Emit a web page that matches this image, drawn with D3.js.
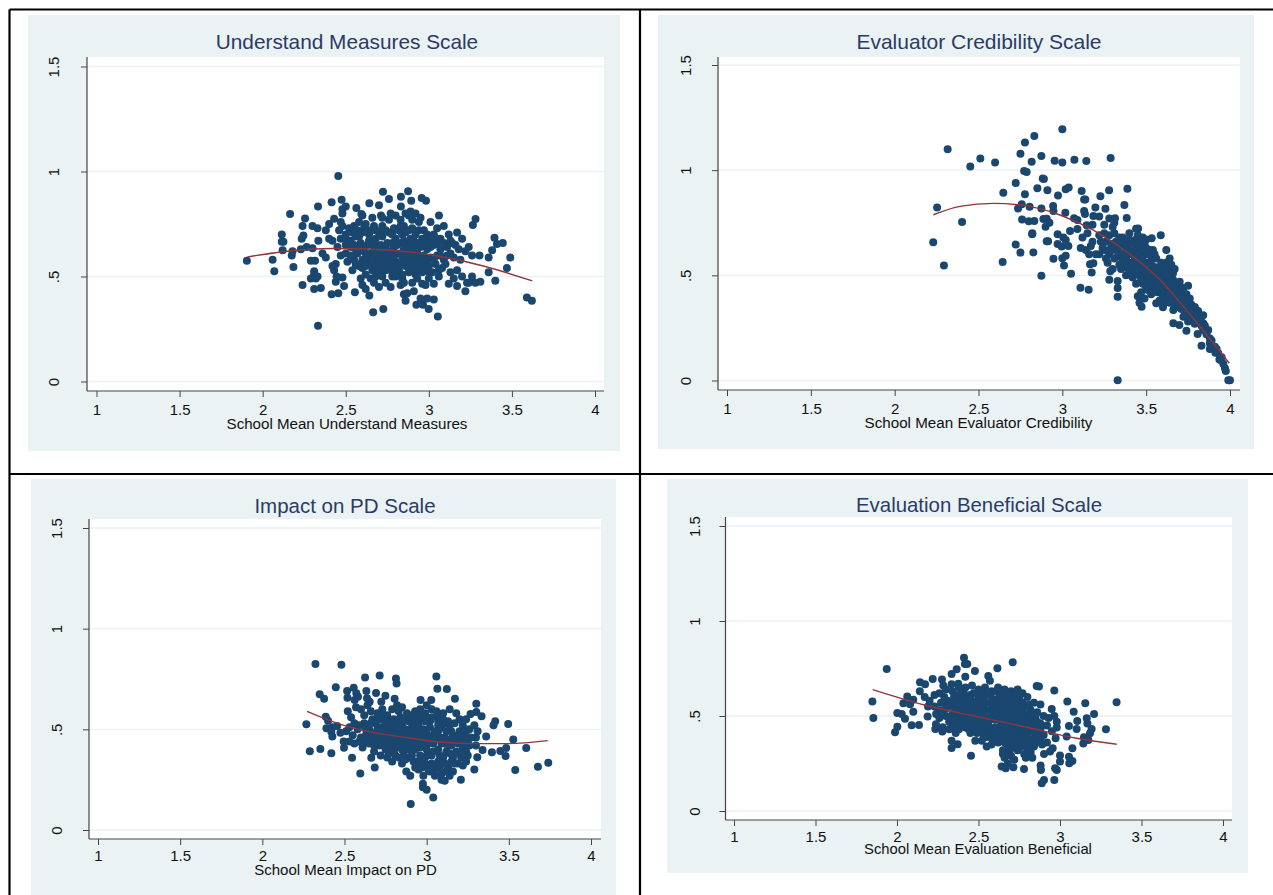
<!DOCTYPE html>
<html><head><meta charset="utf-8">
<script src="https://cdn.jsdelivr.net/npm/d3@7/dist/d3.min.js"></script>
<style>html,body{margin:0;padding:0;background:#fff}svg{display:block}text{font-family:"Liberation Sans",Arial,sans-serif}</style>
</head><body><div id="chart"></div>
<script>
const xTickValues=[1,1.5,2,2.5,3,3.5,4];
const yTickValues=[0,.5,1,1.5];
const tickLabel=v=>v===.5?".5":String(v);

const understandPoints=[[2.455,.979],[2.724,.903],[2.875,.906],[2.832,.88],[2.76,.869],[2.957,.874],[2.983,.861],[2.894,.861],[2.475,.866],[2.415,.853],[2.642,.849],[2.7,.839],[2.333,.833],[2.832,.833],[2.5,.833],[2.48,.82],[2.564,.826],[2.165,.798],[2.255,.776],[2.594,.798],[2.712,.791],[3.061,.791],[3.281,.774],[3.265,.745],
[2.333,.266],[2.665,.33],[2.726,.345],[3.054,.31],[2.925,.365],[2.999,.345],[2.965,.365],[3.03,.39],[2.99,.395],[2.95,.395],[2.86,.385],[2.87,.42],[2.91,.43],[2.85,.415],[2.642,.41],[2.555,.425],[2.455,.42],[2.415,.415],[2.31,.44],[2.35,.445],[2.24,.46],[2.49,.455],[2.6,.46],[2.7,.45],[2.77,.45],[2.83,.46],[2.96,.465],[3.03,.465],[3.12,.465],[3.17,.455],[3.22,.43],[3.23,.47],[3.28,.47],[3.31,.475],[3.4,.48],[3.36,.52],[3.47,.54],[3.59,.4],[3.62,.385],[3.49,.59],[3.36,.59],[3.305,.6],[3.381,.625],[3.41,.655],[3.445,.66],[3.395,.685],[1.905,.575],[2.06,.58],[2.07,.525],[2.185,.545],[2.175,.6],[2.12,.625],[2.115,.665],[2.125,.665],[2.115,.7],[2.235,.68],[2.245,.695],[2.24,.74],[2.18,.62],[2.23,.63],[2.265,.64],[2.3,.635],[2.29,.575],[2.315,.575],[2.31,.525],[2.33,.5],[2.29,.49],[2.32,.49],[2.31,.51],[2.38,.59],[2.36,.61],[2.42,.55],[2.43,.53],[2.44,.56],[2.445,.5],[2.44,.475],[2.48,.495],[2.54,.53],[2.3,.74],[2.33,.73],[2.335,.67],[2.38,.72],[2.4,.75],[2.43,.775],[2.47,.76],[2.48,.8],[2.46,.72],[2.4,.68],[2.42,.67],[2.45,.64],[2.5,.65],[2.5,.61],[2.51,.57],[2.55,.58],[2.58,.55],[2.6,.54],
[2.52,.73],[2.55,.74],[2.58,.76],[2.62,.75],[2.66,.78],[2.68,.72],[2.72,.74],[2.76,.77],[2.8,.79],[2.83,.77],[2.86,.8],[2.89,.81],[2.92,.8],[2.9,.77],[2.85,.74],[2.79,.73],[2.94,.76],[2.97,.72],[3.01,.76],[3.05,.73],[3.09,.74],[3.13,.67],[3.17,.71],[3.2,.68],[3.24,.64],[3.26,.6],[3.22,.62],[3.18,.63],[3.14,.66],[3.11,.64],[3.07,.68],[3.03,.7],[3,.67],[2.96,.68],[2.92,.7],[2.88,.72],[2.84,.7],[2.8,.68],[2.76,.71],[2.72,.69],[2.68,.68],[2.64,.7],[2.6,.71],[2.56,.69],[2.53,.67],[2.55,.65],[2.59,.66],[2.63,.65],[2.67,.64],[2.71,.65],[2.75,.66],[2.79,.64],[2.83,.66],[2.87,.65],[2.91,.67],[2.95,.64],[2.99,.63],[3.03,.65],[3.07,.63],[3.11,.6],[3.15,.59],[3.19,.58],[3.09,.58],[3.05,.6],[3.01,.59],[2.97,.6],[2.93,.61],[2.89,.62],[2.85,.63],[2.81,.61],[2.77,.62],[2.73,.61],[2.69,.6],[2.65,.61],[2.61,.62],[2.57,.61],[2.53,.6],[2.56,.56],[2.6,.58],[2.64,.57],[2.68,.56],[2.72,.57],[2.76,.58],[2.8,.57],[2.84,.59],[2.88,.58],[2.92,.57],[2.96,.56],[3,.55],[3.04,.56],[3.08,.54],[3.02,.52],[2.98,.53],[2.94,.54],[2.9,.53],[2.86,.55],[2.82,.53],[2.78,.54],[2.74,.53],[2.7,.52],[2.66,.53],[2.62,.51],[2.65,.49],[2.72,.5],[2.78,.5],[2.84,.49],[2.93,.49],[3,.49],[3.06,.5],[2.59,.49],[2.98,.46],[2.85,.47],[3.13,.52],[3.17,.53],[3.2,.5],[3.26,.5],[3.15,.49],[3.24,.47],[2.74,.47],[2.62,.44]];
const understandExtra=[[2.54,.71],[2.57,.72],[2.61,.73],[2.65,.72],[2.7,.71],[2.74,.72],[2.78,.7],[2.82,.72],[2.86,.71],[2.9,.73],[2.94,.72],[2.99,.7],[3.04,.68],[2.56,.63],[2.6,.64],[2.64,.67],[2.67,.66],[2.7,.63],[2.74,.64],[2.78,.66],[2.81,.65],[2.85,.67],[2.89,.68],[2.93,.66],[2.97,.65],[3.01,.64],[3.05,.66],[3.09,.66],[2.63,.6],[2.67,.61],[2.71,.6],[2.75,.6],[2.79,.6],[2.83,.61],[2.87,.6],[2.91,.6],[2.95,.59],[2.99,.58],[3.03,.58],[3.07,.6],[2.59,.56],[2.62,.59],[2.66,.58],[2.7,.58],[2.74,.59],[2.78,.56],[2.82,.56],[2.86,.57],[2.9,.56],[2.94,.57],[2.97,.55],[2.62,.55],[2.66,.55],[2.7,.54],[2.74,.55],[2.78,.52],[2.82,.51],[2.88,.52],[2.92,.51],[2.96,.52],[3,.52],[2.68,.5],[2.84,.51],[3.06,.53],[3.1,.56],[3.13,.61],[3.16,.65],[3.12,.7],[2.48,.74],[2.5,.7],[2.47,.68],[2.5,.68],[2.53,.64],[2.47,.6],[2.6,.79],[2.72,.78],[2.88,.79],[2.95,.78],[2.77,.8],[2.83,.74],[2.67,.74],[2.91,.64],[2.58,.69],[2.76,.54],[2.88,.54],[2.8,.5],[2.9,.47],[2.67,.47]];
const understandFit=[[1.908,.593],[2.124,.618],[2.425,.633],[2.626,.631],[2.907,.615],[3.127,.587],[3.328,.55],[3.623,.479]];

const credibilityPoints=[[3,1.194],[2.833,1.162],[2.777,1.131],[2.316,1.1],[2.75,1.078],[2.875,1.067],[2.511,1.056],[2.954,1.045],[3,1.037],[3.072,1.05],[3.143,1.044],[3.288,1.058],[2.817,1.04],[2.599,1.036],[2.451,1.017],[2.772,.996],[2.787,.991],[2.883,.96],[2.89,.958],[2.722,.939],[2.851,.914],[2.911,.904],[3.02,.909],[3.038,.917],[3.115,.901],[3.279,.904],[3.388,.912],[2.648,.893],[2.777,.885],[2.974,.879],[3.227,.876],[3.13,.861],[3.137,.861],[2.253,.823],[2.758,.838],[2.736,.818],[2.805,.826],[2.875,.818],[2.945,.83],[2.947,.806],[3.37,.834],[3.197,.822],[3.257,.817],[3.018,.798],[3.13,.806],[3.135,.792],[3.185,.782],[2.402,.753],[2.76,.765],[2.8,.757],[2.833,.758],[2.887,.768],[2.907,.769],[2.923,.75],[2.9,.731],[3.384,.773],[3.07,.771],[3.09,.763],[3.314,.771],[3.145,.738],[2.821,.7],[2.82,.695],[2.972,.695],[3.046,.711],[3.587,.69],[3.533,.676],[3.452,.723],[3.44,.722],[2.23,.657],[2.907,.662],[2.915,.662],[2.722,.646],[2.75,.608],[2.827,.609],[2.972,.649],[3.006,.68],[3.02,.668],[3.036,.639],[2.996,.637],[2.294,.547],[2.644,.563],[2.947,.579],[3,.581],[3.02,.593],[3.01,.547],[2.875,.498],[3.052,.508],[3.175,.514],[3.165,.553],[3.185,.557],[3.108,.441],[3.157,.432],[3.28,.479],[3.33,.473],[3.33,.44],[3.33,.398],[3.286,.519],[3.33,.001],[4,.001],[3.99,.001],[3.97,.058],[3.975,.045],[3.937,.1],[3.945,.097],[3.913,.132],[3.83,.165],[3.88,.177],[3.9,.153],[3.86,.232],[3.807,.221],[3.74,.237],[3.698,.264],[3.662,.272],[3.83,.303],[3.84,.272],[3.772,.287],[3.722,.303],[3.473,.351],[3.56,.367],[3.6,.348],[3.662,.335],
[3.09,.72],[3.12,.68],[3.15,.7],[3.18,.66],[3.11,.63],[3.14,.62],[3.16,.6],[3.2,.6],[3.23,.66],[3.25,.74],[3.22,.78],[3.28,.77],[3.25,.7],[3.3,.73],[3.28,.69],[3.3,.65],[3.25,.62],[3.22,.6],[3.28,.6],[3.31,.58],[3.27,.56],[3.33,.62],[3.36,.68],[3.38,.64],[3.35,.6],[3.38,.58],[3.41,.65],[3.44,.67],[3.42,.61],[3.46,.63],[3.49,.65],[3.52,.62],[3.55,.6],[3.53,.57],[3.49,.6],[3.45,.58],[3.41,.56],[3.37,.54],[3.4,.52],[3.43,.54],[3.47,.54],[3.51,.53],[3.55,.54],[3.59,.56],[3.62,.62],[3.64,.58],[3.61,.54],[3.58,.52],[3.54,.5],[3.5,.49],[3.46,.5],[3.42,.49],[3.38,.5],[3.44,.46],[3.48,.46],[3.52,.46],[3.56,.48],[3.6,.49],[3.64,.51],[3.67,.53],[3.66,.48],[3.63,.46],[3.59,.45],[3.55,.44],[3.51,.43],[3.47,.42],[3.45,.4],[3.49,.39],[3.46,.37],[3.53,.41],[3.57,.42],[3.61,.42],[3.65,.44],[3.69,.45],[3.72,.44],[3.75,.45],[3.74,.41],[3.7,.4],[3.66,.4],[3.62,.39],[3.58,.38],[3.6,.4],[3.64,.37],[3.68,.37],[3.72,.37],[3.76,.39],[3.79,.35],[3.75,.34],[3.71,.34],[3.67,.35],[3.73,.31],[3.77,.32],[3.81,.33],[3.84,.31],[3.8,.29],[3.83,.26],[3.79,.27],[3.75,.28],[3.86,.22],[3.88,.2],[3.84,.24],[3.91,.16],[3.93,.13],[3.88,.15],[3.17,.64],[3.34,.68],[3.4,.7],[3.48,.68],[3.5,.56],[3.34,.55],[3.3,.53],[3.37,.6],[3.44,.62],[3.26,.66],[3.18,.74]];
const credibilityExtra=[[3.32,.66],[3.35,.64],[3.38,.62],[3.4,.6],[3.43,.59],[3.4,.67],[3.43,.65],[3.46,.66],[3.47,.6],[3.5,.63],[3.51,.6],[3.54,.62],[3.56,.58],[3.52,.55],[3.48,.57],[3.44,.56],[3.46,.52],[3.49,.52],[3.52,.51],[3.55,.52],[3.57,.5],[3.6,.52],[3.58,.54],[3.62,.56],[3.65,.55],[3.63,.53],[3.66,.51],[3.62,.49],[3.59,.47],[3.56,.46],[3.53,.48],[3.5,.47],[3.47,.48],[3.44,.51],[3.41,.5],[3.61,.46],[3.64,.48],[3.67,.46],[3.7,.47],[3.72,.42],[3.69,.42],[3.66,.43],[3.63,.42],[3.6,.43],[3.57,.44],[3.54,.42],[3.5,.44],[3.68,.39],[3.71,.39],[3.74,.38],[3.77,.36],[3.73,.35],[3.69,.35],[3.65,.38],[3.61,.37],[3.78,.33],[3.76,.3],[3.8,.31],[3.82,.28],[3.85,.26],[3.87,.24],[3.89,.19],[3.92,.15],[3.95,.11],[3.96,.08],[3.3,.62],[3.33,.59],[3.36,.57],[3.39,.55],[3.35,.53],[3.4,.62],[3.45,.69],[3.5,.67],[3.37,.66],[3.31,.7],[3.24,.63],[3.29,.63],[3.33,.65],[3.26,.58],[3.22,.69],[3.31,.75]];
const credibilityFit=[[2.231,.788],[2.39,.828],[2.589,.842],[2.787,.83],[2.986,.787],[3.185,.715],[3.384,.612],[3.583,.478],[3.781,.295],[3.996,.082]];

const impactPoints=[[2.323,.824],[2.481,.821],[2.625,.758],[2.714,.768],[2.813,.752],[2.817,.728],[3.059,.762],[3.065,.702],[3.123,.7],[2.447,.709],[2.349,.674],[2.376,.652],[2.516,.69],[2.556,.707],[2.572,.679],[2.582,.662],[2.518,.657],[2.562,.646],[2.633,.69],[2.637,.654],[2.653,.637],[2.692,.68],[2.749,.667],[2.724,.637],[2.805,.652],[2.963,.646],[3,.62],[3.028,.646],[3.172,.652],[3.302,.627],[3.302,.586],[3.267,.576],[3.334,.565],[3.417,.54],[3.407,.52],[3.496,.526],[2.268,.525],[2.386,.563],[2.4,.543],[2.39,.505],[2.426,.51],[2.455,.516],[2.42,.488],[2.426,.464],[2.475,.483],[2.289,.391],[2.353,.402],[2.42,.381],[2.495,.439],[2.497,.409],[2.546,.359],[2.596,.281],[2.903,.129],[3.04,.161],[2.977,.23],[2.977,.212],[3,.2],[3.208,.25],[3.29,.3],[3.539,.298],[3.677,.314],[3.74,.334],[3.606,.407],[3.527,.449],[3.484,.407],[3.448,.392],[3.48,.367],[3.397,.386],[3.362,.464],[3.3,.46],[3.34,.397],[3.308,.361],[2.684,.311],[2.663,.359],[2.876,.29],[2.9,.27],[3.09,.25],[3.11,.245],[3.14,.27],[3.22,.32],
[2.52,.59],[2.54,.56],[2.57,.61],[2.56,.53],[2.53,.51],[2.51,.49],[2.55,.47],[2.53,.44],[2.56,.43],[2.6,.46],[2.58,.5],[2.62,.53],[2.65,.5],[2.63,.47],[2.61,.41],[2.65,.43],[2.68,.46],[2.7,.5],[2.67,.55],[2.7,.58],[2.73,.6],[2.76,.57],[2.79,.6],[2.82,.62],[2.85,.61],[2.88,.58],[2.84,.56],[2.8,.55],[2.75,.53],[2.72,.51],[2.74,.47],[2.71,.42],[2.68,.39],[2.72,.37],[2.75,.4],[2.78,.44],[2.81,.49],[2.85,.52],[2.89,.54],[2.93,.59],[2.96,.6],[2.99,.58],[3.03,.6],[3.06,.59],[2.97,.55],[2.93,.52],[2.9,.5],[2.87,.46],[2.84,.42],[2.8,.39],[2.76,.36],[2.79,.34],[2.83,.36],[2.86,.39],[2.9,.43],[2.94,.47],[2.98,.5],[3.02,.54],[3.07,.56],[3.1,.58],[3.14,.6],[3.18,.58],[3.2,.55],[3.24,.55],[3.22,.52],[3.17,.53],[3.13,.54],[3.09,.51],[3.05,.49],[3.01,.46],[2.97,.43],[2.93,.4],[2.89,.36],[2.85,.33],[2.92,.34],[2.96,.37],[3,.4],[3.04,.43],[3.08,.46],[3.12,.49],[3.16,.47],[3.2,.49],[3.26,.5],[3.29,.52],[3.31,.49],[3.27,.46],[3.23,.46],[3.19,.43],[3.15,.42],[3.11,.43],[3.07,.4],[3.03,.37],[2.99,.33],[2.95,.3],[3.02,.29],[3.06,.32],[3.1,.36],[3.14,.38],[3.18,.39],[3.22,.41],[3.26,.42],[3.3,.42],[3.25,.37],[3.21,.36],[3.17,.33],[3.13,.31],[3.09,.28],[3.05,.27],[2.98,.27],[3.16,.29],[3.24,.34],[2.77,.49],[2.69,.53],[2.62,.57],[2.66,.59],[2.6,.6],[2.64,.62],[2.82,.46],[2.79,.52],[2.91,.57],[3.11,.53],[2.88,.42],[2.75,.44],[2.81,.41],[3.14,.45],[3.02,.51]];
const impactExtra=[[2.73,.55],[2.77,.54],[2.82,.53],[2.86,.55],[2.9,.56],[2.94,.55],[2.78,.51],[2.83,.5],[2.87,.5],[2.91,.53],[2.95,.52],[2.99,.54],[3.03,.56],[3.07,.52],[3.1,.55],[3.14,.52],[2.72,.45],[2.77,.46],[2.8,.47],[2.84,.47],[2.88,.48],[2.92,.49],[2.96,.49],[3,.48],[3.04,.47],[3.07,.49],[3.11,.46],[3.15,.49],[3.19,.46],[3.24,.49],[2.69,.43],[2.74,.42],[2.78,.41],[2.82,.43],[2.86,.44],[2.9,.46],[2.93,.44],[2.97,.46],[3.01,.43],[3.05,.45],[3.09,.43],[3.13,.42],[3.17,.44],[3.21,.43],[3.25,.44],[2.77,.38],[2.81,.37],[2.85,.4],[2.89,.4],[2.92,.42],[2.96,.41],[3,.37],[3.04,.39],[3.08,.37],[3.12,.39],[3.16,.36],[3.2,.38],[3.24,.39],[2.87,.35],[2.91,.37],[2.95,.34],[2.99,.36],[3.03,.33],[3.07,.34],[3.11,.33],[3.15,.34],[3.19,.33],[2.93,.31],[2.97,.31],[3.01,.3],[3.05,.3],[3.08,.31],[3.12,.29],[2.59,.52],[2.63,.5],[2.66,.48],[2.69,.48],[2.72,.48],[2.75,.5],[2.66,.53],[2.7,.55],[2.73,.58],[2.83,.59],[2.96,.57],[3,.56],[3.07,.54],[3.22,.49],[2.59,.44],[2.62,.44],[2.65,.46],[2.68,.42],[2.85,.36]];
const impactFit=[[2.272,.589],[2.471,.526],[2.674,.485],[2.876,.459],[3.079,.437],[3.282,.429],[3.484,.429],[3.737,.444]];

const beneficialPoints=[[2.411,.807],[2.417,.774],[2.431,.774],[2.71,.783],[1.937,.748],[2.478,.737],[2.616,.751],[2.366,.746],[2.335,.721],[2.419,.707],[2.56,.711],[2.57,.686],[2.219,.695],[2.276,.692],[2.141,.678],[2.172,.667],[2.284,.66],[2.335,.667],[2.376,.67],[2.857,.658],[2.871,.655],[2.965,.634],[1.849,.576],[1.855,.49],[2.063,.602],[2.039,.567],[2.08,.562],[2.1,.585],[2.002,.516],[2.029,.511],[2.049,.485],[2.1,.523],[2.188,.497],[2.002,.444],[1.988,.414],[2.09,.451],[2.135,.453],[2.239,.456],[2.235,.432],[2.28,.441],[2.278,.418],[2.335,.37],[2.372,.351],[2.335,.332],[2.454,.291],[3.045,.576],[3.155,.567],[3.347,.572],[3.084,.523],[3.209,.511],[3.164,.488],[3.106,.474],[3.168,.46],[3.194,.432],[3.184,.409],[3.282,.43],[3.055,.448],[3.102,.432],[3.041,.392],[3.147,.388],[3.174,.374],[3.143,.355],[3.076,.33],[3,.292],[3,.26],[3.055,.286],[3.076,.263],[3.057,.251],[2.973,.383],[2.98,.47],[2.949,.537],[2.965,.5],[2.955,.33],[2.939,.313],[2.902,.3],[2.98,.216],[2.97,.225],[2.881,.239],[2.883,.216],[2.779,.221],[2.965,.163],[2.902,.163],[2.888,.146],[2.642,.234],[2.667,.225],[2.714,.23],[2.79,.28],[2.83,.28],[2.7,.29],
[2.14,.63],[2.17,.6],[2.2,.58],[2.23,.61],[2.26,.62],[2.3,.64],[2.34,.63],[2.38,.65],[2.42,.65],[2.46,.66],[2.5,.64],[2.54,.65],[2.58,.63],[2.62,.65],[2.66,.64],[2.7,.63],[2.74,.64],[2.77,.62],[2.8,.6],[2.84,.57],[2.88,.56],[2.75,.59],[2.71,.6],[2.67,.6],[2.63,.61],[2.59,.59],[2.55,.61],[2.51,.6],[2.47,.62],[2.43,.6],[2.39,.59],[2.35,.6],[2.31,.58],[2.27,.57],[2.23,.55],[2.19,.55],[2.26,.53],[2.3,.54],[2.34,.55],[2.38,.56],[2.42,.56],[2.46,.57],[2.5,.56],[2.54,.57],[2.58,.55],[2.62,.56],[2.66,.56],[2.7,.55],[2.74,.56],[2.78,.55],[2.82,.53],[2.86,.52],[2.9,.5],[2.93,.49],[2.86,.47],[2.82,.49],[2.78,.51],[2.74,.52],[2.7,.51],[2.66,.52],[2.62,.52],[2.58,.51],[2.54,.53],[2.5,.52],[2.46,.53],[2.42,.52],[2.38,.51],[2.34,.51],[2.3,.5],[2.26,.49],[2.32,.47],[2.36,.47],[2.4,.48],[2.44,.49],[2.48,.48],[2.52,.49],[2.56,.47],[2.6,.48],[2.64,.48],[2.68,.47],[2.72,.48],[2.76,.47],[2.8,.46],[2.84,.44],[2.88,.43],[2.92,.45],[2.9,.4],[2.86,.39],[2.82,.42],[2.78,.43],[2.74,.44],[2.7,.43],[2.66,.44],[2.62,.44],[2.58,.43],[2.54,.44],[2.5,.45],[2.46,.45],[2.42,.44],[2.38,.43],[2.34,.45],[2.36,.41],[2.45,.41],[2.49,.41],[2.53,.4],[2.57,.39],[2.61,.4],[2.65,.4],[2.69,.39],[2.73,.4],[2.77,.39],[2.81,.38],[2.85,.36],[2.89,.35],[2.78,.35],[2.74,.36],[2.7,.36],[2.66,.36],[2.62,.36],[2.58,.35],[2.52,.37],[2.48,.37],[2.55,.34],[2.65,.32],[2.69,.31],[2.74,.32],[2.82,.31],[2.66,.28],[2.72,.27],[2.68,.25],[2.84,.34],[2.92,.36],[2.95,.42],[2.98,.44],[2.4,.62],[2.29,.6],[2.44,.53]];
const beneficialExtra=[[2.37,.53],[2.41,.54],[2.45,.55],[2.49,.54],[2.53,.55],[2.57,.53],[2.61,.54],[2.65,.54],[2.69,.53],[2.73,.54],[2.77,.53],[2.81,.51],[2.85,.5],[2.33,.49],[2.37,.49],[2.41,.5],[2.45,.51],[2.49,.5],[2.53,.51],[2.56,.49],[2.6,.5],[2.64,.5],[2.68,.49],[2.72,.5],[2.76,.49],[2.8,.48],[2.84,.47],[2.88,.46],[2.4,.46],[2.44,.47],[2.48,.46],[2.52,.47],[2.56,.45],[2.6,.44],[2.64,.46],[2.68,.45],[2.72,.46],[2.76,.45],[2.8,.44],[2.84,.42],[2.88,.41],[2.44,.43],[2.48,.43],[2.52,.43],[2.56,.41],[2.6,.42],[2.64,.42],[2.68,.41],[2.72,.42],[2.76,.41],[2.8,.4],[2.84,.38],[2.88,.38],[2.55,.39],[2.59,.37],[2.63,.38],[2.67,.38],[2.71,.38],[2.75,.38],[2.79,.37],[2.82,.35],[2.68,.34],[2.72,.34],[2.76,.34],[2.8,.33],[2.7,.33],[2.65,.3],[2.78,.3],[2.3,.56],[2.33,.57],[2.36,.58],[2.41,.58],[2.45,.59],[2.49,.58],[2.53,.59],[2.57,.57],[2.61,.58],[2.65,.58],[2.69,.57],[2.73,.58],[2.77,.57],[2.81,.56],[2.37,.61],[2.41,.62],[2.45,.61],[2.49,.62],[2.53,.63],[2.57,.61],[2.61,.63],[2.65,.62],[2.69,.62],[2.73,.61],[2.28,.52],[2.24,.51],[2.36,.44],[2.32,.43]];
const beneficialFit=[[1.851,.639],[2.182,.555],[2.489,.497],[2.795,.441],[3.102,.383],[3.348,.351]];

const titles=["Understand Measures Scale","Evaluator Credibility Scale","Impact on PD Scale","Evaluation Beneficial Scale"];
const xTitles=["School Mean Understand Measures","School Mean Evaluator Credibility","School Mean Impact on PD","School Mean Evaluation Beneficial"];
const pointSets=[understandPoints.concat(understandExtra),credibilityPoints.concat(credibilityExtra),impactPoints.concat(impactExtra),beneficialPoints.concat(beneficialExtra)];
const fitSets=[understandFit,credibilityFit,impactFit,beneficialFit];

const W=1273,H=895;
const layout=[
 {bg:[28,15,620,451],plot:[87,57,604,391],xr:[96.5,595],yr:[381.5,66.5],title:42,ty:410,ax:423.5,yl:54,fs:20.8,as:15.1,cx:347,acx:347},
 {bg:[658,15,1254,449],plot:[718,57,1240,390],xr:[727,1230],yr:[380.5,65],title:42,ty:409,ax:423,yl:686,fs:21,as:15.2,cx:979,acx:978.5},
 {bg:[31,479,616,895],plot:[89,519,601,839],xr:[98,591],yr:[830,528],title:506,ty:856,ax:870,yl:57,fs:20.5,as:15,cx:345,acx:345.5},
 {bg:[667,479,1248,873],plot:[725.5,517,1232,820],xr:[734,1223],yr:[811,526],title:505,ty:837,ax:849,yl:695,fs:20.4,as:14.8,cx:979,acx:978}
];
const svg=d3.select("#chart").append("svg").attr("width",W).attr("height",H);
svg.append("rect").attr("width",W).attr("height",H).attr("fill","#fff");

layout.forEach((L,i)=>{
 const g=svg.append("g");
 const [bx0,by0,bx1,by1]=L.bg,[px0,py0,px1,py1]=L.plot;
 g.append("rect").attr("x",bx0).attr("y",by0).attr("width",bx1-bx0).attr("height",by1-by0).attr("fill","#eaf2f3");
 g.append("rect").attr("x",px0).attr("y",py0).attr("width",px1-px0).attr("height",py1-py0).attr("fill","#fff");
 const x=d3.scaleLinear().domain([1,4]).range(L.xr);
 const y=d3.scaleLinear().domain([0,1.5]).range(L.yr);
 g.selectAll(".grid").data(yTickValues).join("line").attr("class","grid")
  .attr("x1",px0).attr("x2",px1).attr("y1",d=>y(d)).attr("y2",d=>y(d))
  .attr("stroke","#eaf2f3").attr("stroke-width",1.4);
 g.selectAll("circle").data(pointSets[i]).join("circle")
  .attr("cx",d=>x(d[0])).attr("cy",d=>y(d[1])).attr("r",4).attr("fill","#1a476f");
 g.append("path").datum(fitSets[i])
  .attr("d",d3.line().x(d=>x(d[0])).y(d=>y(d[1])).curve(d3.curveMonotoneX))
  .attr("fill","none").attr("stroke","#90353b").attr("stroke-width",1.4);
 const ax=g.append("g").attr("transform",`translate(0,${py1})`)
  .call(d3.axisBottom(x).tickValues(xTickValues).tickFormat(tickLabel).tickSize(6).tickPadding(0));
 ax.select(".domain").attr("d",`M${px0},0H${px1}`).attr("stroke","#444").attr("stroke-width",1.2);
 ax.selectAll(".tick line").attr("stroke","#444");
 ax.selectAll(".tick text").attr("y",L.ty-py1).attr("dy",".35em").attr("font-size",15).attr("fill","#111").attr("font-family","Liberation Sans");
 const ay=g.append("g").attr("transform",`translate(${px0},0)`)
  .call(d3.axisLeft(y).tickValues(yTickValues).tickFormat(tickLabel).tickSize(6));
 ay.select(".domain").attr("d",`M0,${py0}V${py1}`).attr("stroke","#444").attr("stroke-width",1.2);
 ay.selectAll(".tick line").attr("stroke","#444");
 ay.selectAll(".tick text").attr("x",0).attr("y",0).attr("dy",0).attr("text-anchor","middle")
  .attr("transform",`translate(${L.yl-px0+5},0) rotate(-90)`).attr("font-size",15).attr("fill","#111").attr("font-family","Liberation Sans");
 g.append("text").attr("x",L.cx).attr("y",L.title).attr("dy",".35em").attr("text-anchor","middle")
  .attr("font-size",L.fs).attr("fill","#2b3a67").text(titles[i]);
 g.append("text").attr("x",L.acx).attr("y",L.ax).attr("dy",".35em").attr("text-anchor","middle")
  .attr("font-size",L.as).attr("fill","#111").text(xTitles[i]);
});
// table rules
const rules=[[9.5,9.5,W,9.5],[9.5,9.5,9.5,H],[9.5,474,W,474],[640,9.5,640,H]];
svg.selectAll(".rule").data(rules).join("line").attr("class","rule")
 .attr("x1",d=>d[0]).attr("y1",d=>d[1]).attr("x2",d=>d[2]).attr("y2",d=>d[3])
 .attr("stroke","#000").attr("stroke-width",2.2);
</script></body></html>
